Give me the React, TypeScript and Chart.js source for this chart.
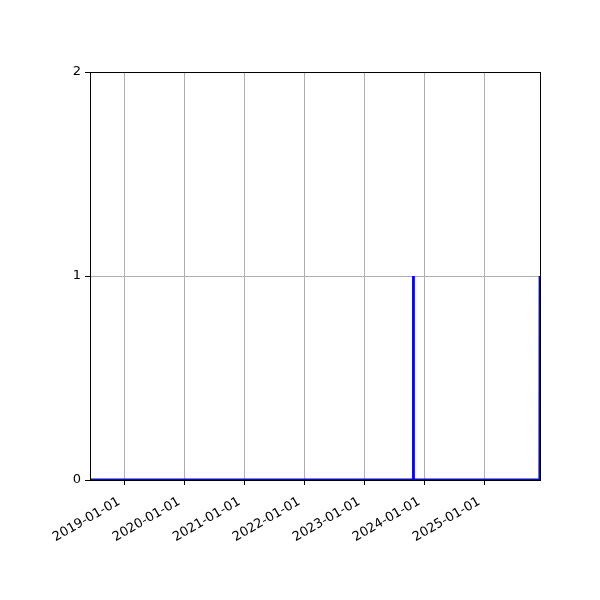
import React, { useEffect, useRef } from 'react'
import { Chart, registerables } from 'chart.js'

Chart.register(...registerables)

// daily series: zero everywhere except two single-day spikes
const dates = ['2018-06-06', '2023-10-26', '2023-10-27', '2023-10-28', '2025-12-05', '2025-12-06']
const values = [0, 0, 1, 0, 0, 1]
const xTickLabels = ['2019-01-01', '2020-01-01', '2021-01-01', '2022-01-01', '2023-01-01', '2024-01-01', '2025-01-01']
const yTicks = [0, 1, 2]

const DAY = 86400000
const toDay = (s: string) => {
  const [y, m, d] = s.split('-').map(Number)
  return Date.UTC(y, m - 1, d) / DAY
}
const fmtDay = (v: number) => new Date(Math.round(v) * DAY).toISOString().slice(0, 10)

const FONT = { family: 'DejaVu Sans', size: 13 }

const framePlugin = {
  id: 'frame',
  afterDatasetsDraw(chart: any) {
    const { ctx, chartArea: a } = chart
    ctx.save()
    ctx.strokeStyle = '#000'
    ctx.lineWidth = 1
    ctx.strokeRect(Math.round(a.left) + 0.5, Math.round(a.top) + 0.5, Math.round(a.right - a.left), Math.round(a.bottom - a.top))
    ctx.restore()
  },
}

const App = () => {
  const chartRef = useRef<HTMLCanvasElement>(null)

  useEffect(() => {
    document.body.style.margin = '0'
    if (!chartRef.current) return
    const ctx = chartRef.current.getContext('2d')
    if (!ctx) return

    const points = dates.map((d, i) => ({ x: toDay(d), y: values[i] }))

    const chart = new Chart(ctx, {
      type: 'line',
      data: {
        datasets: [{
          data: points,
          borderColor: '#0000ff',
          borderWidth: 2.8,
          pointRadius: 0,
          tension: 0,
          fill: false,
          clip: 0,
        }],
      },
      options: {
        animation: false,
        responsive: false,
        devicePixelRatio: 1,
        layout: { padding: { left: 0, top: 72, right: 60, bottom: 0 } },
        plugins: { legend: { display: false }, tooltip: { enabled: false } },
        scales: {
          x: {
            type: 'linear',
            min: toDay(dates[0]),
            max: toDay(dates[dates.length - 1]),
            afterBuildTicks: (scale: any) => {
              scale.ticks = xTickLabels.map(t => ({ value: toDay(t) }))
            },
            afterFit: (scale: any) => { scale.height = 120 },
            grid: { color: '#b0b0b0', lineWidth: 1, tickColor: '#000', tickLength: 5 },
            border: { display: false },
            ticks: {
              callback: (v: any) => fmtDay(Number(v)),
              minRotation: 30,
              maxRotation: 30,
              autoSkip: false,
              padding: 9,
              labelOffset: -5,
              color: '#000',
              font: FONT,
            },
          },
          y: {
            min: 0,
            max: 2,
            afterBuildTicks: (scale: any) => {
              scale.ticks = yTicks.map(v => ({ value: v }))
            },
            afterFit: (scale: any) => { scale.width = 90 },
            grid: { color: '#b0b0b0', lineWidth: 1, tickColor: '#000', tickLength: 5 },
            border: { display: false },
            ticks: { padding: 4, color: '#000', font: FONT },
          },
        },
      },
      plugins: [framePlugin],
    })

    return () => {
      chart.destroy()
    }
  }, [])

  return (
    <div style={{ width: 600, height: 600, background: '#fff' }}>
      <canvas ref={chartRef} width={600} height={600} />
    </div>
  )
}

export default App
